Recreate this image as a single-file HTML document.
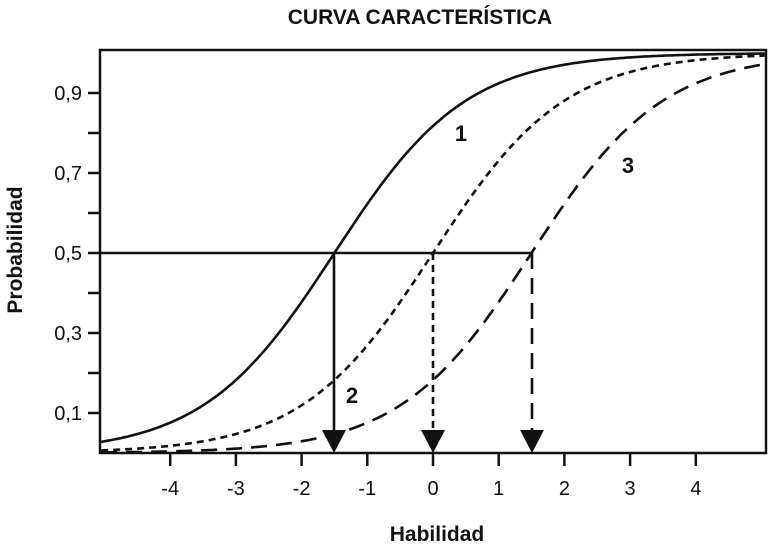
<!DOCTYPE html>
<html><head><meta charset="utf-8"><style>
html,body{margin:0;padding:0;background:#fff;}
svg{display:block;}
text{font-family:"Liberation Sans",sans-serif;fill:#111;}
</style></head><body>
<svg id="s" width="768" height="552" viewBox="0 0 768 552" xmlns="http://www.w3.org/2000/svg">
<rect x="0" y="0" width="768" height="552" fill="#fff"/>
<text x="420" y="24" text-anchor="middle" font-size="21" font-weight="bold">CURVA CARACTERÍSTICA</text>
<text transform="translate(22,250) rotate(-90)" text-anchor="middle" font-size="21" font-weight="bold">Probabilidad</text>
<text x="437" y="541" text-anchor="middle" font-size="21" font-weight="bold">Habilidad</text>
<rect x="100" y="50" width="666" height="403" fill="none" stroke="#111" stroke-width="2.5"/>
<g id="ticks" stroke="#111" stroke-width="2.5"></g>
<g id="labels" font-size="20"></g>
<g fill="none" stroke="#111" stroke-width="2.6">
<path id="c1"/>
<path id="c2" stroke-dasharray="7 5"/>
<path id="c3" stroke-dasharray="16 9"/>
<line x1="100" y1="253" x2="532" y2="253"/>
<line x1="334" y1="253" x2="334" y2="432"/>
<line x1="433" y1="253" x2="433" y2="432" stroke-dasharray="7 5"/>
<line x1="532" y1="253" x2="532" y2="432" stroke-dasharray="16 9"/>
</g>
<g fill="#111">
<polygon points="322,430 346,430 334,453"/>
<polygon points="421,430 445,430 433,453"/>
<polygon points="520,430 544,430 532,453"/>
</g>
<text x="461" y="141" text-anchor="middle" font-size="22" font-weight="bold">1</text>
<text x="352" y="403" text-anchor="middle" font-size="22" font-weight="bold">2</text>
<text x="628" y="173" text-anchor="middle" font-size="22" font-weight="bold">3</text>
</svg>
<script>
var X=function(v){return 433+65.7*v;},Y=function(p){return 453-400*p;};
function curve(c){var d="";for(var v=-5.05;v<=5.05;v+=0.05){var p=1/(1+Math.exp(-(v-c)));d+=(d?"L":"M")+X(v).toFixed(1)+","+Y(p).toFixed(1);}return d;}
document.getElementById("c1").setAttribute("d",curve(-1.5));
document.getElementById("c2").setAttribute("d",curve(0));
document.getElementById("c3").setAttribute("d",curve(1.5));
var ns="http://www.w3.org/2000/svg",t=document.getElementById("ticks"),l=document.getElementById("labels");
function el(g,n,a,txt){var e=document.createElementNS(ns,n);for(var k in a)e.setAttribute(k,a[k]);if(txt)e.textContent=txt;g.appendChild(e);}
for(var i=1;i<=9;i++){var y=Y(i/10);el(t,"line",{x1:88,y1:y,x2:100,y2:y});if(i%2==1)el(l,"text",{x:82,y:y+7,"text-anchor":"end"},"0,"+i);}
for(var v=-4;v<=4;v++){var x=X(v);el(t,"line",{x1:x,y1:453,x2:x,y2:466});el(l,"text",{x:x,y:495,"text-anchor":"middle"},String(v));}
</script>
</body></html>
